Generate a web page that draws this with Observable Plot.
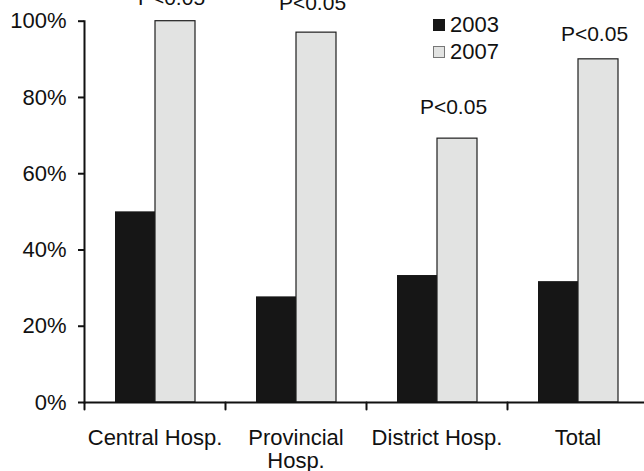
<!DOCTYPE html>
<html>
<head>
<meta charset="utf-8">
<script src="https://cdn.jsdelivr.net/npm/d3@7"></script>
<script src="https://cdn.jsdelivr.net/npm/@observablehq/plot@0.6"></script>
<style>
  html, body { margin: 0; padding: 0; background: #fff; overflow: hidden; }
  #wrap { position: relative; width: 644px; height: 471px; font-family: "Liberation Sans", Arial, sans-serif; }
  #legend { position: absolute; left: 433px; top: 11px; font-size: 22px; color: #111; }
  #legend .row { display: flex; align-items: center; height: 27px; }
  #legend .sw { width: 12px; height: 12px; box-sizing: border-box; margin-right: 5px; }
</style>
</head>
<body>
<div id="wrap"></div>
<script>
// ---- data ----
const categories = ["Central Hosp.", "Provincial\nHosp.", "District Hosp.", "Total"];
const years = ["2003", "2007"];
const values2003 = [50, 27.7, 33.3, 31.7];
const values2007 = [100, 97, 69.2, 90];
const pLabels = ["P<0.05", "P<0.05", "P<0.05", "P<0.05"];
const pLabelY = [106.1, 104.6, 77.5, 96.5];
const yTicks = [0, 20, 40, 60, 80, 100];
const yearColors = ["#161616", "#e2e3e2"];

const rows = categories.flatMap((c, i) => [
  {cat: c, year: years[0], value: values2003[i]},
  {cat: c, year: years[1], value: values2007[i]}
]);
const labels = categories.map((c, i) => ({cat: c, text: pLabels[i], y: pLabelY[i]}));

const tickShape = {draw(ctx, l) { ctx.moveTo(0, 0); ctx.lineTo(0, -l); }};

const chart = Plot.plot({
  width: 644,
  height: 471,
  marginLeft: 83,
  marginRight: -5,
  marginTop: 20.7,
  marginBottom: 69,
  style: {fontFamily: "'Liberation Sans', Arial, sans-serif", fontSize: "22px", color: "#111", background: "#fff"},
  fx: {domain: categories, padding: 0, label: null},
  x: {domain: years, paddingInner: 0, paddingOuter: 0.743, axis: null},
  y: {domain: [0, 100], axis: null},
  marks: [
    Plot.barY(rows, {filter: d => d.year === years[0], fx: "cat", x: "year", y: "value", fill: yearColors[0]}),
    Plot.barY(rows, {filter: d => d.year === years[1], fx: "cat", x: "year", y: "value", fill: yearColors[1], stroke: "#1e1e1e", strokeWidth: 1.2}),
    Plot.text(labels, {fx: "cat", x: () => years[1], y: "y", text: "text", dx: -4, fontSize: 21, fill: "#111", lineAnchor: "middle"}),
    Plot.axisY(yTicks, {tickSize: 6, tickPadding: 12, tickFormat: d => d + "%", fontSize: 22, strokeWidth: 2, stroke: "#111", fill: "#111", label: null}),
    Plot.frame({anchor: "left", facetAnchor: "left", strokeWidth: 2, stroke: "#111"}),
    Plot.ruleY([0], {strokeWidth: 2, stroke: "#111"}),
    Plot.vector([0], {frameAnchor: "bottom-left", length: 7, rotate: 180, anchor: "start", shape: tickShape, stroke: "#111", strokeWidth: 2}),
    Plot.axisFx({anchor: "bottom", tickSize: 0, tickPadding: 26, fontSize: 22, lineHeight: 1.05, fill: "#111", label: null})
  ]
});

const wrap = document.getElementById("wrap");
wrap.appendChild(chart);

// legend
const legend = d3.select(wrap).append("div").attr("id", "legend");
const item = legend.selectAll(".row").data(years).join("div").attr("class", "row");
item.append("span").attr("class", "sw")
  .style("background", (d, i) => yearColors[i])
  .style("border", (d, i) => i === 0 ? "none" : "1px solid #777");
item.append("span").text(d => d);
</script>
</body>
</html>
